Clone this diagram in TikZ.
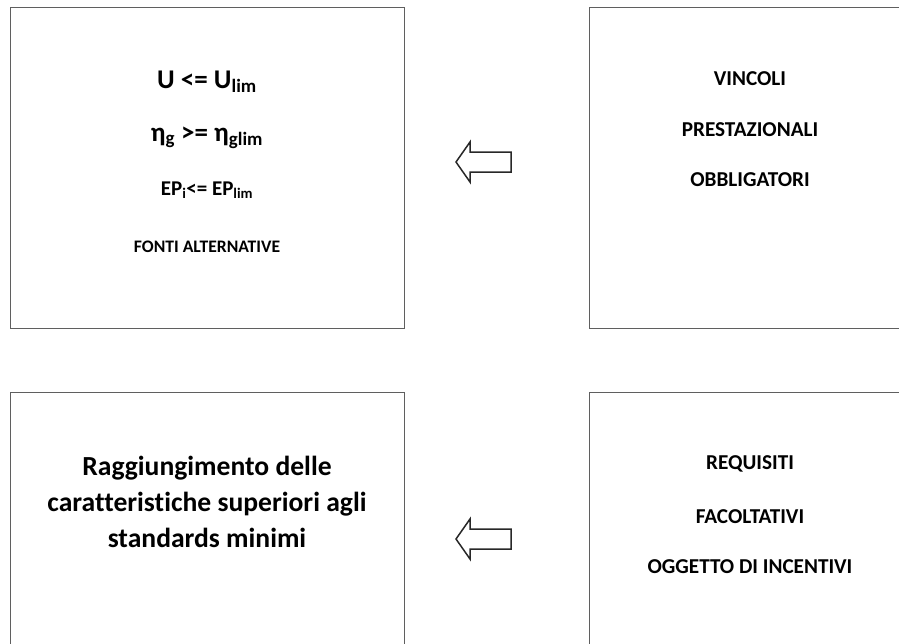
\documentclass[tikz,border=0pt]{standalone}
\usepackage{fontspec}
\setmainfont{Carlito}[Ligatures=CommonOff]
\definecolor{boxgray}{RGB}{95,95,95}
\definecolor{arrowgray}{RGB}{40,40,40}
\newcommand{\lowidx}[1]{\textsubscript{#1}}
\begin{document}
\begin{tikzpicture}[x=1pt,y=-1pt,
  panel/.style={draw=boxgray, line width=1pt, rectangle, anchor=north west, inner sep=0pt},
  bigtxt/.style={anchor=base, inner sep=0pt, font=\bfseries\fontsize{27}{30}\selectfont},
  midtxt/.style={anchor=base, inner sep=0pt, font=\bfseries\fontsize{21}{24}\selectfont},
  smalltxt/.style={anchor=base, inner sep=0pt, font=\bfseries\fontsize{17.6}{21}\selectfont},
  sidetxt/.style={anchor=base, inner sep=0pt, font=\bfseries\fontsize{21.2}{24}\selectfont},
  bodytxt/.style={anchor=base, inner sep=0pt, font=\bfseries\fontsize{27.6}{32}\selectfont},
  blockarrow/.style={draw=arrowgray, line width=1.5pt, fill=white, line join=miter}]
\useasboundingbox (0,0) rectangle (899,643);
\clip (0,0) rectangle (899,643);
% panels
\node[panel, minimum width=394pt, minimum height=321pt] (tl) at (10,7) {};
\node[panel, minimum width=322pt, minimum height=321pt] (tr) at (589,7) {};
\node[panel, minimum width=394pt, minimum height=321pt] (bl) at (10,392) {};
\node[panel, minimum width=322pt, minimum height=321pt] (br) at (589,392) {};
% top-left texts
\node[bigtxt] (t1) at (207,88) {U <= U\lowidx{lim}};
\node[bigtxt] (t2) at (207,141) {η\lowidx{g} >= η\lowidx{glim}};
\node[midtxt] (t3) at (207,195) {EP\lowidx{i}<= EP\lowidx{lim}};
\node[smalltxt] (t4) at (207,252) {FONTI ALTERNATIVE};
% top-right texts
\node[sidetxt] (r1) at (750,85) {VINCOLI};
\node[sidetxt] (r2) at (750,136) {PRESTAZIONALI};
\node[sidetxt] (r3) at (750,186) {OBBLIGATORI};
% bottom-left texts
\node[bodytxt] (b1) at (207,475) {Raggiungimento delle};
\node[bodytxt] (b2) at (207,511) {caratteristiche superiori agli};
\node[bodytxt] (b3) at (207,547) {standards minimi};
% bottom-right texts
\node[sidetxt] (q1) at (750,469) {REQUISITI};
\node[sidetxt] (q2) at (750,523) {FACOLTATIVI};
\node[sidetxt] (q3) at (750,573) {OGGETTO DI INCENTIVI};
% arrows
\coordinate (a1) at (456,162);
\draw[blockarrow] (a1) -- ++(14,-20) -- ++(0,10) -- ++(41,0) -- ++(0,20) -- ++(-41,0) -- ++(0,10) -- cycle;
\coordinate (a2) at (456,539);
\draw[blockarrow] (a2) -- ++(14,-20) -- ++(0,10) -- ++(41,0) -- ++(0,20) -- ++(-41,0) -- ++(0,10) -- cycle;
\end{tikzpicture}
\end{document}
